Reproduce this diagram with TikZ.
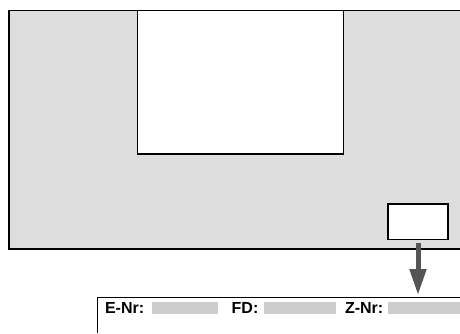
\documentclass[tikz,border=0pt]{standalone}
\usepackage{fontspec}
\setmainfont{Liberation Sans}
\usetikzlibrary{arrows.meta}
\definecolor{panelgray}{HTML}{DDDDDD}
\definecolor{fieldgray}{HTML}{CDCDCD}
\definecolor{arrowgray}{HTML}{555555}

\begin{document}
\begin{tikzpicture}[x=1pt,y=-1pt,
    every node/.style={inner sep=0pt, outer sep=0pt},
    field/.style={fill=fieldgray, minimum height=11.7pt, anchor=north west},
    lbl/.style={font=\fontsize{16}{19}\selectfont\bfseries, anchor=base west}]
    \useasboundingbox (0,0) rectangle (460,333);
    \fill[panelgray] (9,10.5) rectangle (460,249);
    \draw[line width=1.2pt] (460,10.5) -- (9,10.5) -- (9,249) -- (460,249);
    \node[draw, fill=white, line width=1.5pt, minimum width=206pt, minimum height=143.5pt, anchor=north west] (screen) at (137.3,10.5) {};
    \node[draw, fill=white, line width=1.2pt, minimum width=60pt, minimum height=35.5pt, anchor=north west] (tag) at (388,204) {};
    % label strip
    \coordinate (strip) at (97,297);
    \coordinate (slot) at (418,295);
    \draw[line width=1pt] (strip |- 0,333) -- (strip) -- (460,297);
    \draw[arrowgray, line width=5pt, shorten <=3pt, -{Triangle[length=26pt,width=16pt]}] (tag.south) -- (slot);
    \node[lbl] (enr) at (105,313.3) {E-Nr:};
    \node[field, minimum width=66.6pt] (enrf) at (151.7,302.3) {};
    \node[lbl] (fd) at (231.7,313.3) {FD:};
    \node[field, minimum width=71.7pt] (fdf) at (264.3,302.3) {};
    \node[lbl] (znr) at (345,313.3) {Z-Nr:};
    \node[field, minimum width=71.7pt] (znrf) at (388.3,302.3) {};
\end{tikzpicture}
\end{document}
